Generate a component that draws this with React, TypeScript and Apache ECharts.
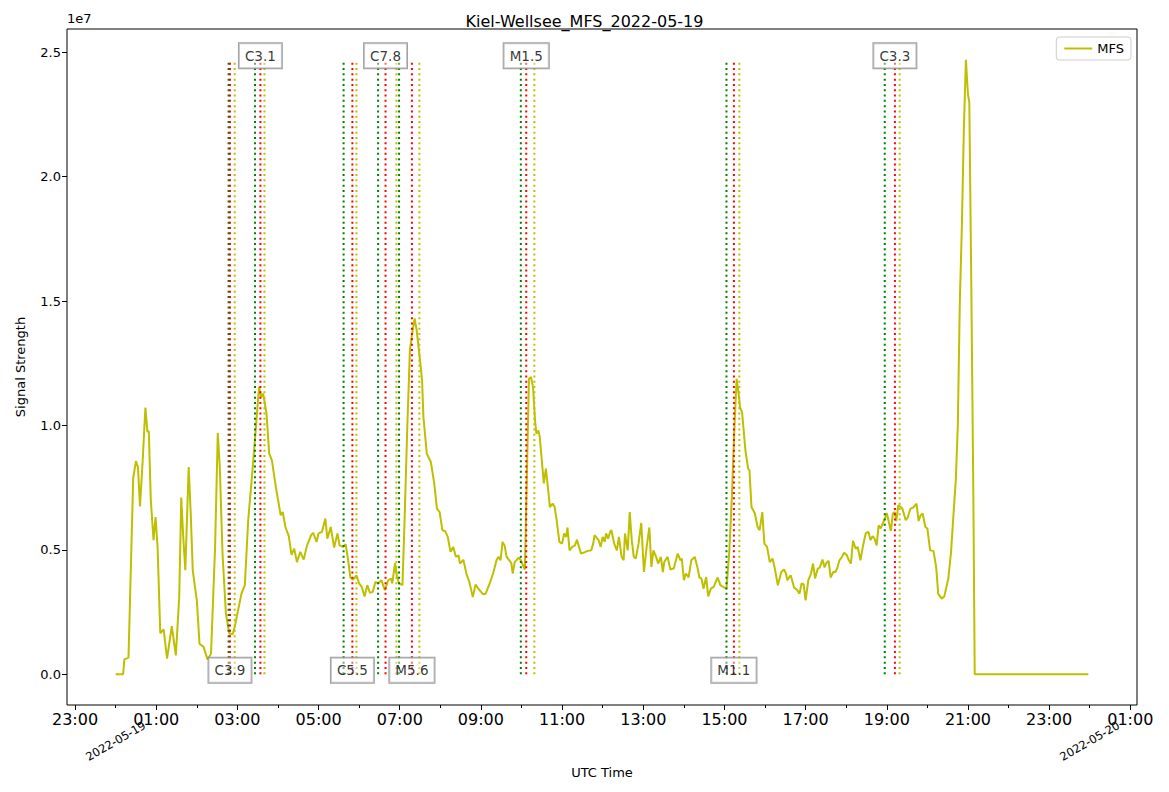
import React, { useEffect, useRef } from "react";
import * as echarts from "echarts";

const TITLE = "Kiel-Wellsee_MFS_2022-05-19";
const SERIES_NAME = "MFS";
const DATE_LABELS = ["2022-05-19", "2022-05-20"];

// UTC time of each sample (HH:MM on 2022-05-19)
const TIMES = [
  "00:00", "00:11", "00:13", "00:19", "00:26", "00:30", "00:33", "00:36", "00:40", "00:44",
  "00:47", "00:49", "00:52", "00:56", "00:59", "01:02", "01:06", "01:11", "01:16", "01:23",
  "01:29", "01:34", "01:37", "01:40", "01:43", "01:48", "01:51", "01:54", "02:00", "02:04",
  "02:10", "02:16", "02:21", "02:27", "02:31", "02:34", "02:38", "02:43", "02:48", "02:53",
  "02:56", "03:01", "03:06", "03:11", "03:16", "03:22", "03:27", "03:32", "03:35", "03:38",
  "03:43", "03:47", "03:51", "03:57", "04:04", "04:07", "04:11", "04:16", "04:20", "04:24",
  "04:28", "04:33", "04:38", "04:43", "04:49", "04:52", "04:57", "05:00", "05:05", "05:10",
  "05:13", "05:18", "05:23", "05:28", "05:31", "05:36", "05:40", "05:43", "05:47", "05:51",
  "05:56", "06:00", "06:04", "06:08", "06:12", "06:16", "06:20", "06:24", "06:28", "06:33",
  "06:38", "06:43", "06:47", "06:49", "06:53", "06:56", "06:59", "07:04", "07:07", "07:11",
  "07:15", "07:18", "07:22", "07:25", "07:30", "07:33", "07:35", "07:40", "07:46", "07:51",
  "07:55", "07:59", "08:03", "08:07", "08:11", "08:15", "08:19", "08:23", "08:27", "08:29",
  "08:34", "08:39", "08:43", "08:48", "08:52", "08:58", "09:03", "09:07", "09:13", "09:18",
  "09:23", "09:26", "09:29", "09:32", "09:35", "09:38", "09:42", "09:45", "09:47", "09:50",
  "09:56", "09:59", "10:05", "10:08", "10:11", "10:14", "10:17", "10:20", "10:22", "10:25",
  "10:27", "10:30", "10:33", "10:36", "10:39", "10:42", "10:46", "10:49", "10:52", "10:56",
  "11:00", "11:03", "11:06", "11:08", "11:11", "11:15", "11:19", "11:22", "11:25", "11:28",
  "11:33", "11:38", "11:43", "11:46", "11:48", "11:54", "11:57", "12:00", "12:03", "12:05",
  "12:08", "12:11", "12:13", "12:17", "12:21", "12:24", "12:28", "12:31", "12:33", "12:37",
  "12:40", "12:43", "12:46", "12:49", "12:53", "12:57", "13:01", "13:05", "13:09", "13:12",
  "13:15", "13:19", "13:22", "13:26", "13:29", "13:31", "13:36", "13:40", "13:45", "13:51",
  "13:55", "13:57", "14:00", "14:03", "14:07", "14:11", "14:16", "14:20", "14:23", "14:26",
  "14:29", "14:33", "14:36", "14:40", "14:44", "14:50", "14:54", "14:58", "15:03", "15:07",
  "15:11", "15:15", "15:18", "15:21", "15:23", "15:26", "15:28", "15:31", "15:35", "15:37",
  "15:40", "15:45", "15:49", "15:52", "15:56", "15:59", "16:03", "16:07", "16:11", "16:14",
  "16:19", "16:24", "16:28", "16:31", "16:33", "16:36", "16:38", "16:40", "16:43", "16:47",
  "16:51", "16:54", "16:57", "17:00", "17:04", "17:08", "17:11", "17:14", "17:18", "17:21",
  "17:25", "17:28", "17:30", "17:34", "17:37", "17:41", "17:44", "17:47", "17:50", "17:53",
  "17:57", "18:01", "18:04", "18:07", "18:10", "18:14", "18:17", "18:21", "18:25", "18:29",
  "18:33", "18:36", "18:39", "18:42", "18:45", "18:48", "18:51", "18:54", "18:57", "19:00",
  "19:03", "19:06", "19:09", "19:12", "19:14", "19:17", "19:21", "19:23", "19:28", "19:31",
  "19:35", "19:39", "19:44", "19:47", "19:50", "19:53", "19:57", "20:00", "20:04", "20:09",
  "20:13", "20:16", "20:21", "20:25", "20:31", "20:35", "20:39", "20:42", "20:45", "20:48",
  "20:51", "20:54", "20:57", "21:00", "21:02", "21:05", "21:08", "21:10", "23:58",
];

// Signal strength in units of 1e6
const SIGNAL_E6 = [
  0, 0, 0.6, 0.67, 7.9, 8.57, 8.33, 6.75, 8.6, 10.72,
  9.74, 9.78, 7.0, 5.39, 6.32, 5.12, 1.65, 1.8, 0.63, 1.93,
  0.76, 3.1, 7.1, 5.5, 4.18, 8.33, 6.46, 4.18, 2.97, 1.23,
  1.1, 0.59, 0.83, 5.1, 9.7, 8.33, 4.85, 2.44, 1.64, 1.61,
  1.9, 2.57, 3.24, 3.58, 6.2, 8.1, 9.8, 11.55, 11.15, 11.28,
  10.5, 8.87, 8.6, 7.5, 6.39, 6.52, 5.92, 5.55, 4.8, 5.05,
  4.51, 4.92, 4.61, 5.18, 5.59, 5.68, 5.32, 5.66, 5.72, 6.26,
  5.45, 5.92, 5.09, 5.66, 5.18, 5.12, 5.23, 4.72, 3.89, 3.8,
  3.98, 3.65, 3.5, 3.13, 3.58, 3.27, 3.31, 3.71, 3.65, 3.78,
  3.38, 3.78, 3.85, 3.65, 4.47, 3.91, 3.65, 3.58, 6.06, 9.8,
  13.02, 13.63, 14.3, 13.83, 12.62, 11.82, 10.34, 8.87, 8.53, 7.67,
  6.66, 6.52, 5.79, 5.76, 5.52, 4.92, 5.12, 4.72, 4.78, 4.45,
  4.6, 4.0, 3.7, 3.1, 3.6, 3.38, 3.22, 3.24, 3.65, 4.05,
  4.58, 4.72, 4.58, 5.32, 5.18, 4.72, 4.58, 4.47, 4.05, 4.51,
  4.69, 4.58, 4.21, 8.07, 11.88, 11.95, 11.55, 10.21, 9.67, 9.8,
  9.54, 8.6, 7.67, 8.27, 7.53, 6.72, 6.86, 6.72, 6.19, 5.32,
  5.25, 5.66, 5.52, 5.9, 4.98, 5.12, 5.18, 5.41, 5.12, 4.85,
  4.9, 4.96, 4.98, 5.25, 5.59, 5.39, 5.12, 5.52, 5.32, 5.66,
  5.45, 5.72, 5.79, 5.25, 4.98, 5.52, 4.72, 4.58, 5.66, 4.98,
  6.52, 5.39, 4.72, 4.65, 5.25, 6.08, 4.11, 5.12, 5.9, 4.31,
  4.98, 4.72, 4.45, 4.72, 4.11, 4.51, 4.72, 4.21, 4.25, 4.85,
  4.58, 4.65, 3.78, 4.05, 3.89, 4.58, 4.72, 4.31, 3.89, 3.85,
  3.44, 3.91, 3.13, 3.44, 3.51, 3.89, 3.58, 3.51, 3.44, 4.85,
  7.13, 10.08, 11.88, 11.28, 10.74, 10.54, 9.94, 9.0, 8.27, 8.2,
  6.72, 6.46, 5.92, 5.79, 6.52, 5.25, 5.12, 4.51, 4.65, 4.31,
  3.58, 4.11, 4.21, 4.05, 3.78, 3.91, 3.98, 3.78, 3.48, 3.4,
  3.24, 3.65, 3.62, 2.97, 3.78, 4.05, 4.45, 3.85, 4.25, 4.29,
  4.61, 4.29, 4.45, 4.56, 3.89, 4.11, 4.11, 4.29, 4.58, 4.69,
  4.88, 4.78, 4.58, 4.45, 5.36, 5.05, 5.12, 4.58, 5.18, 5.68,
  5.72, 5.39, 5.55, 5.45, 5.18, 5.99, 5.86, 6.06, 6.26, 6.48,
  6.12, 5.76, 6.46, 6.52, 6.16, 6.79, 6.72, 6.66, 6.19, 6.3,
  6.66, 6.7, 6.86, 6.16, 6.39, 6.46, 5.92, 5.86, 4.98, 4.96,
  4.31, 3.24, 3.04, 3.13, 3.85, 4.92, 6.59, 7.8, 10.0, 15.0,
  18.0, 22.0, 24.7, 23.3, 23.0, 15.5, 7.1, 0, 0,
];

// Solar flares (GOES class, start / peak / end in UTC)
const FLARE_CLASS = ["C3.9", "C3.1", "C5.5", "C7.8", "M5.6", "M1.5", "M1.1", "C3.3"];
const FLARE_START = ["02:47", "03:26", "05:37", "06:28", "06:59", "09:59", "15:03", "18:57"];
const FLARE_PEAK = ["02:49", "03:34", "05:50", "06:39", "07:18", "10:07", "15:14", "19:12"];
const FLARE_END = ["02:56", "03:40", "05:56", "06:55", "07:29", "10:19", "15:22", "19:19"];

const FONT = "DejaVu Sans";
const LINE_COLOR = "#bfbf00";
const START_COLOR = "#008000";
const PEAK_COLOR = "#ff0000";
const END_COLOR = "#bfbf00";

function toHours(t: string): number {
  const [h, m] = t.split(":").map(Number);
  return h + m / 60;
}

function hourLabel(v: number): string {
  const h = ((Math.round(v) % 24) + 24) % 24;
  return String(h).padStart(2, "0") + ":00";
}

export default function App() {
  const ref = useRef<HTMLDivElement>(null);

  useEffect(() => {
    if (!ref.current) return;
    const chart = echarts.init(ref.current, null, { renderer: "svg" });

    const xs = TIMES.map(toHours);
    const ys = SIGNAL_E6.map((v) => v * 1e6);
    const xMin0 = Math.min(...xs);
    const xMax0 = Math.max(...xs);
    const yMin0 = Math.min(...ys);
    const yMax0 = Math.max(...ys);
    const xPad = (xMax0 - xMin0) * 0.05;
    const yPad = (yMax0 - yMin0) * 0.05;
    const xMin = xMin0 - xPad;
    const xMax = xMax0 + xPad;
    const yMin = yMin0 - yPad;
    const yMax = yMax0 + yPad;

    const majorHours: number[] = [];
    const minorHours: number[] = [];
    for (let h = Math.ceil(xMin); h <= xMax; h++) {
      if (((h % 2) + 2) % 2 === 1) majorHours.push(h);
      else minorHours.push(h);
    }
    const dayHours = DATE_LABELS.map((_, i) => i * 24);
    const yTicks: number[] = [];
    for (let v = 0; v <= yMax; v += 5e6) yTicks.push(v);

    const vlineSeries: any[] = [];
    const kinds: [string[], string][] = [
      [FLARE_START, START_COLOR],
      [FLARE_PEAK, PEAK_COLOR],
      [FLARE_END, END_COLOR],
    ];
    FLARE_CLASS.forEach((_, i) => {
      kinds.forEach(([arr, color]) => {
        const t = toHours(arr[i]);
        vlineSeries.push({
          type: "line",
          silent: true,
          symbol: "none",
          data: [
            [t, 0],
            [t, yMax0],
          ],
          lineStyle: { color, width: 2, type: [2, 3.3] },
        });
      });
    });

    const labelData = FLARE_CLASS.map((c, i) => [
      toHours(FLARE_PEAK[i]),
      i % 2 === 0 ? 0 : yMax0,
      c,
    ]);

    const option: any = {
      animation: false,
      backgroundColor: "#ffffff",
      textStyle: { fontFamily: FONT, color: "#000" },
      title: {
        text: TITLE,
        left: "center",
        top: 13,
        padding: 0,
        textStyle: { fontFamily: FONT, fontSize: 16, fontWeight: "normal", color: "#000" },
      },
      legend: {
        data: [SERIES_NAME],
        right: 38,
        top: 37,
        icon: "rect",
        itemWidth: 28,
        itemHeight: 2,
        padding: [5, 7, 5, 8],
        borderColor: "#cccccc",
        borderWidth: 1,
        borderRadius: 3,
        backgroundColor: "#ffffff",
        textStyle: { fontFamily: FONT, fontSize: 13, color: "#000" },
      },
      graphic: [
        {
          type: "text",
          left: 67,
          top: 12,
          style: { text: "1e7", fontFamily: FONT, fontSize: 13, fill: "#000" },
        },
      ],
      grid: {
        left: 67,
        right: 32,
        top: 29,
        bottom: 87,
        show: true,
        borderColor: "#000",
        borderWidth: 1,
        backgroundColor: "transparent",
      },
      xAxis: [
        {
          type: "value",
          min: xMin,
          max: xMax,
          position: "bottom",
          axisLine: { show: false, onZero: false },
          splitLine: { show: false },
          axisTick: { show: true, customValues: majorHours, length: 5, lineStyle: { color: "#000" } },
          axisLabel: {
            customValues: majorHours,
            formatter: (v: number) => hourLabel(v),
            fontFamily: FONT,
            fontSize: 16,
            color: "#000",
            margin: 6,
          },
          name: "UTC Time",
          nameLocation: "middle",
          nameGap: 61,
          nameTextStyle: { fontFamily: FONT, fontSize: 13, color: "#000" },
        },
        {
          type: "value",
          min: xMin,
          max: xMax,
          position: "bottom",
          axisLine: { show: false, onZero: false },
          splitLine: { show: false },
          axisTick: { show: true, customValues: minorHours, length: 3, lineStyle: { color: "#000" } },
          axisLabel: {
            customValues: dayHours,
            formatter: (v: number) => DATE_LABELS[Math.round(v / 24)] ?? "",
            rotate: 30,
            align: "center",
            verticalAlign: "middle",
            fontFamily: FONT,
            fontSize: 11.5,
            color: "#000",
            margin: 36,
          },
        },
      ],
      yAxis: {
        type: "value",
        min: yMin,
        max: yMax,
        axisLine: { show: false, onZero: false },
        splitLine: { show: false },
        axisTick: { show: true, customValues: yTicks, length: 5, lineStyle: { color: "#000" } },
        axisLabel: {
          customValues: yTicks,
          formatter: (v: number) => (v / 1e7).toFixed(1),
          fontFamily: FONT,
          fontSize: 13,
          color: "#000",
          margin: 6,
        },
        name: "Signal Strength",
        nameLocation: "middle",
        nameGap: 40,
        nameTextStyle: { fontFamily: FONT, fontSize: 13, color: "#000" },
      },
      series: [
        {
          name: SERIES_NAME,
          type: "line",
          symbol: "none",
          data: xs.map((x, i) => [x, ys[i]]),
          lineStyle: { color: LINE_COLOR, width: 2 },
          itemStyle: { color: LINE_COLOR },
        },
        ...vlineSeries,
        {
          type: "scatter",
          silent: true,
          symbol: "rect",
          symbolSize: 1,
          itemStyle: { color: "rgba(0,0,0,0)" },
          data: labelData,
          z: 10,
          label: {
            show: true,
            position: "inside",
            offset: [0, -4],
            formatter: (p: any) => p.value[2],
            fontFamily: FONT,
            fontSize: 13.5,
            lineHeight: 15,
            color: "#000",
            backgroundColor: "rgba(255,255,255,0.5)",
            borderColor: "#8a8a8a",
            borderWidth: 1,
            padding: [5, 6, 5, 6],
          },
        },
      ],
    };

    chart.setOption(option);
    return () => chart.dispose();
  }, []);

  return (
    <div
      ref={ref}
      style={{ position: "fixed", left: 0, top: 0, width: 1169, height: 792, background: "#fff" }}
    />
  );
}
